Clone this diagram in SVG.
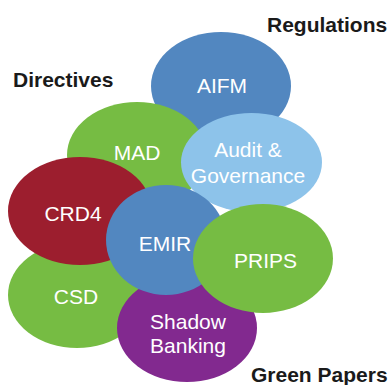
<svg xmlns="http://www.w3.org/2000/svg" width="388" height="385" viewBox="0 0 388 385">
  <style>
    .lbl { font-family: "Liberation Sans", Arial, sans-serif; font-size: 21px; fill: #ffffff; text-anchor: middle; }
    .head { font-family: "Liberation Sans", Arial, sans-serif; font-size: 21px; font-weight: bold; fill: #1a1a1a; }
    .blue { fill: #5287c0; }
    .green { fill: #76bc43; }
    .sky { fill: #8dc3ea; }
    .red { fill: #9c1e2e; }
    .purple { fill: #82298f; }
  </style>
  <rect width="388" height="385" fill="#ffffff"/>

  <!-- group headings -->
  <text class="head" x="13" y="87">Directives</text>
  <text class="head" x="267" y="32">Regulations</text>
  <text class="head" x="251" y="382">Green Papers</text>

  <!-- connectors: none, the bubbles overlap directly -->
  <g id="connectors"/>

  <!-- bubbles, back to front -->
  <g id="aifm">
    <ellipse class="blue" cx="221" cy="86" rx="70" ry="54"/>
    <text class="lbl" x="222" y="93">AIFM</text>
  </g>
  <g id="mad">
    <ellipse class="green" cx="137" cy="155" rx="70" ry="53"/>
    <text class="lbl" x="137" y="160">MAD</text>
  </g>
  <g id="audit">
    <ellipse class="sky" cx="251.5" cy="162.5" rx="70.5" ry="49.5"/>
    <text class="lbl" x="248" y="157">Audit &amp;</text>
    <text class="lbl" x="248" y="183">Governance</text>
  </g>
  <g id="csd">
    <ellipse class="green" cx="77" cy="295" rx="69" ry="53"/>
    <text class="lbl" x="76" y="304">CSD</text>
  </g>
  <g id="crd4">
    <ellipse class="red" cx="80" cy="211" rx="72" ry="54"/>
    <text class="lbl" x="73" y="221">CRD4</text>
  </g>
  <g id="shadow-banking">
    <ellipse class="purple" cx="187" cy="328" rx="70" ry="54"/>
    <text class="lbl" x="188" y="329">Shadow</text>
    <text class="lbl" x="188" y="353">Banking</text>
  </g>
  <g id="emir">
    <ellipse class="blue" cx="166" cy="240" rx="60" ry="55"/>
    <text class="lbl" x="165" y="251">EMIR</text>
  </g>
  <g id="prips">
    <ellipse class="green" cx="263" cy="258.5" rx="70" ry="54.5"/>
    <text class="lbl" x="265.5" y="268">PRIPS</text>
  </g>
</svg>
